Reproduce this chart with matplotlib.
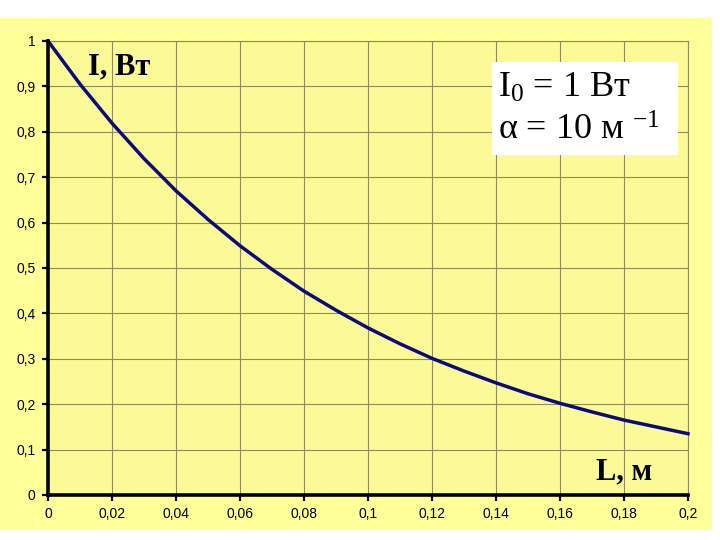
import matplotlib.pyplot as plt
from matplotlib.patches import Rectangle
from matplotlib.ticker import FuncFormatter

# Values (every 0.01 m)
length_m = [0.0, 0.01, 0.02, 0.03, 0.04, 0.05, 0.06, 0.07, 0.08, 0.09, 0.10,
            0.11, 0.12, 0.13, 0.14, 0.15, 0.16, 0.17, 0.18, 0.19, 0.20]
intensity_w = [1.0, 0.905, 0.819, 0.741, 0.670, 0.607, 0.549, 0.497, 0.449, 0.407, 0.368,
               0.333, 0.301, 0.273, 0.247, 0.223, 0.202, 0.183, 0.165, 0.150, 0.135]

x_ticks = [0.0, 0.02, 0.04, 0.06, 0.08, 0.10, 0.12, 0.14, 0.16, 0.18, 0.20]
y_ticks = [0.0, 0.1, 0.2, 0.3, 0.4, 0.5, 0.6, 0.7, 0.8, 0.9, 1.0]

plt.rcParams["mathtext.fontset"] = "custom"
plt.rcParams["mathtext.rm"] = "Liberation Serif"
plt.rcParams["mathtext.it"] = "Liberation Serif:italic"
plt.rcParams["font.family"] = ["Liberation Sans", "DejaVu Sans"]

YELLOW = "#FFFF99"
PLOT_BG = "#FCFA96"
GRID = "#8F8D55"

fig = plt.figure(figsize=(7.2, 5.4), dpi=100)
fig.patch.set_facecolor("white")
fig.patches.append(
    Rectangle((0, 10 / 540), 712 / 720, 512 / 540, transform=fig.transFigure,
              facecolor=YELLOW, edgecolor="none", zorder=-5)
)

ax = fig.add_axes([48 / 720, 1 - 495 / 540, 640 / 720, 454 / 540])
ax.set_facecolor(PLOT_BG)

ax.plot(length_m, intensity_w, color="#0A0A7A", linewidth=2.5, clip_on=False,
        zorder=3, solid_joinstyle="round")

ax.set_xlim(0, 0.2)
ax.set_ylim(0, 1)
ax.set_xticks(x_ticks)
ax.set_yticks(y_ticks)


def comma_fmt(v, _pos):
    s = f"{v:.2f}".rstrip("0").rstrip(".")
    return s.replace(".", ",")


ax.xaxis.set_major_formatter(FuncFormatter(comma_fmt))
ax.yaxis.set_major_formatter(FuncFormatter(comma_fmt))
ax.tick_params(direction="out", length=4, width=1.6, color="black",
               labelsize=10, labelcolor="black", pad=5)

ax.grid(True, color=GRID, linewidth=0.8)
ax.set_axisbelow(True)
for side in ("left", "bottom"):
    ax.spines[side].set_linewidth(2.6)
    ax.spines[side].set_color("black")
    ax.spines[side].set_zorder(4)
for side in ("top", "right"):
    ax.spines[side].set_linewidth(0.8)
    ax.spines[side].set_color(GRID)

ax.text(0.062, 0.942, "I, Вт", transform=ax.transAxes, family="Liberation Serif",
        fontsize=22, fontweight="bold", ha="left", va="center")
ax.text(0.857, 0.05, "L, м", transform=ax.transAxes, family="Liberation Serif",
        fontsize=22, fontweight="bold", ha="left", va="center")

fig.patches.append(
    Rectangle((492 / 720, 1 - 155 / 540), 186 / 720, 93 / 540, transform=fig.transFigure,
              facecolor="white", edgecolor="none", zorder=5)
)
fig.text(498 / 720, 1 - 88 / 540, r"$\mathregular{I_0}$ = 1 Вт", family="Liberation Serif",
         fontsize=26, ha="left", va="center", zorder=6)
fig.text(498 / 720, 1 - 131 / 540, r"$\mathregular{\alpha}$ = 10 м $^{\mathregular{-1}}$",
         family="Liberation Serif", fontsize=26, ha="left", va="center", zorder=6)

fig.savefig("out.png", dpi=100)
